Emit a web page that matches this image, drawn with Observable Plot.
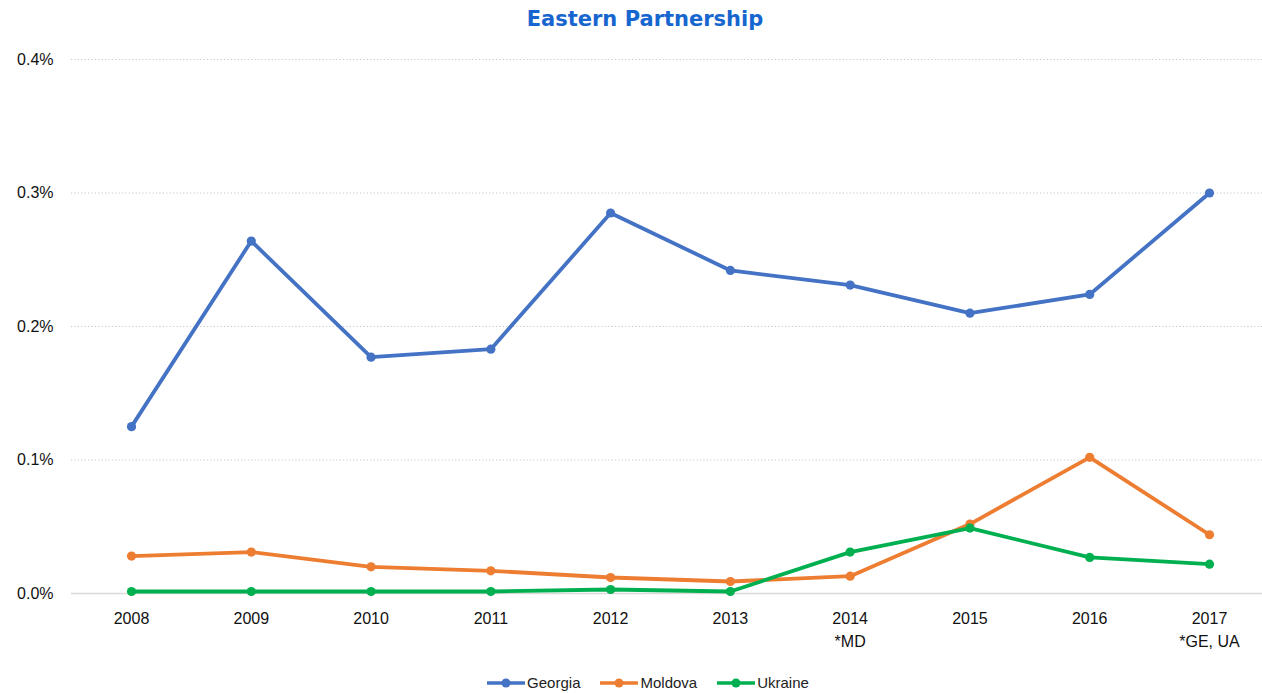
<!DOCTYPE html>
<html><head><meta charset="utf-8">
<script src="https://cdn.jsdelivr.net/npm/d3@7"></script>
<script src="https://cdn.jsdelivr.net/npm/@observablehq/plot@0.6"></script>
<style>
body{margin:0;background:#fff;font-family:"Liberation Sans",Arial,sans-serif}
#title{height:38px;line-height:38px;text-align:center;padding-left:28px;box-sizing:border-box;width:1262px;font-family:"DejaVu Sans",sans-serif;font-weight:bold;font-size:21px;color:#1766D0}
#chart svg{display:block}
#legend{width:1262px;height:33px;display:flex;justify-content:center;align-items:center;gap:20px;font-size:15px;color:#222;padding-left:34px;box-sizing:border-box;padding-top:12px}
.item{display:flex;align-items:center;gap:2px}
</style></head><body>
<div id="title">Eastern Partnership</div>
<div id="chart"></div>
<div id="legend"></div>
<script>
const years = [2008, 2009, 2010, 2011, 2012, 2013, 2014, 2015, 2016, 2017];
const notes = ["", "", "", "", "", "", "*MD", "", "", "*GE, UA"];
const countries = ["Georgia", "Moldova", "Ukraine"];
const colors = ["#4472C4", "#ED7D31", "#00B050"];
const georgia = [0.125, 0.264, 0.177, 0.183, 0.285, 0.242, 0.231, 0.210, 0.224, 0.300];
const moldova = [0.028, 0.031, 0.020, 0.017, 0.012, 0.009, 0.013, 0.052, 0.102, 0.044];
const ukraine = [0.0015, 0.0015, 0.0015, 0.0015, 0.003, 0.0015, 0.031, 0.049, 0.027, 0.022];
const yTicks = [0, 0.1, 0.2, 0.3, 0.4];

const series = [georgia, moldova, ukraine];
const data = countries.flatMap((c, k) => years.map((yr, i) => ({country: c, year: yr, value: series[k][i]})));
const labelOf = new Map(years.map((y, i) => [y, notes[i] ? `${y}\n${notes[i]}` : String(y)]));

const chart = Plot.plot({
  width: 1262,
  height: 622,
  marginLeft: 71,
  marginRight: 0,
  marginTop: 21,
  marginBottom: 67,
  style: {fontFamily: "'Liberation Sans', Arial, sans-serif", fontSize: "16px", color: "#111"},
  x: {type: "point", domain: years, range: [131, 1209], padding: 0, round: false, label: null},
  y: {domain: [0, 0.4], label: null},
  color: {domain: countries, range: colors},
  marks: [
    Plot.ruleY(yTicks.slice(1), {stroke: "#c8c8c8", strokeDasharray: "1.2,2.2", strokeWidth: 1}),
    Plot.ruleY([0], {stroke: "#d9d9d9", strokeWidth: 1.5}),
    Plot.axisY({ticks: yTicks, tickSize: 0, tickPadding: 18, tickFormat: d => d.toFixed(1) + "%", fontSize: 16, label: null}),
    Plot.axisX({tickSize: 0, tickPadding: 14, tickFormat: d => labelOf.get(d), fontSize: 16, lineHeight: 1.45, label: null}),
    ...countries.flatMap(c => [
      Plot.line(data.filter(d => d.country === c), {x: "year", y: "value", stroke: "country", strokeWidth: 3.8, strokeLinejoin: "round"}),
      Plot.dot(data.filter(d => d.country === c), {x: "year", y: "value", fill: "country", r: 4.6})
    ])
  ]
});
document.getElementById("chart").append(chart);

const legend = document.getElementById("legend");
countries.forEach((c, i) => {
  const item = document.createElement("div");
  item.className = "item";
  item.innerHTML = `<svg width="38" height="12"><line x1="0" x2="38" y1="6" y2="6" stroke="${colors[i]}" stroke-width="3.5"/><circle cx="19" cy="6" r="4.5" fill="${colors[i]}"/></svg><span>${c}</span>`;
  legend.append(item);
});
</script>
</body></html>
